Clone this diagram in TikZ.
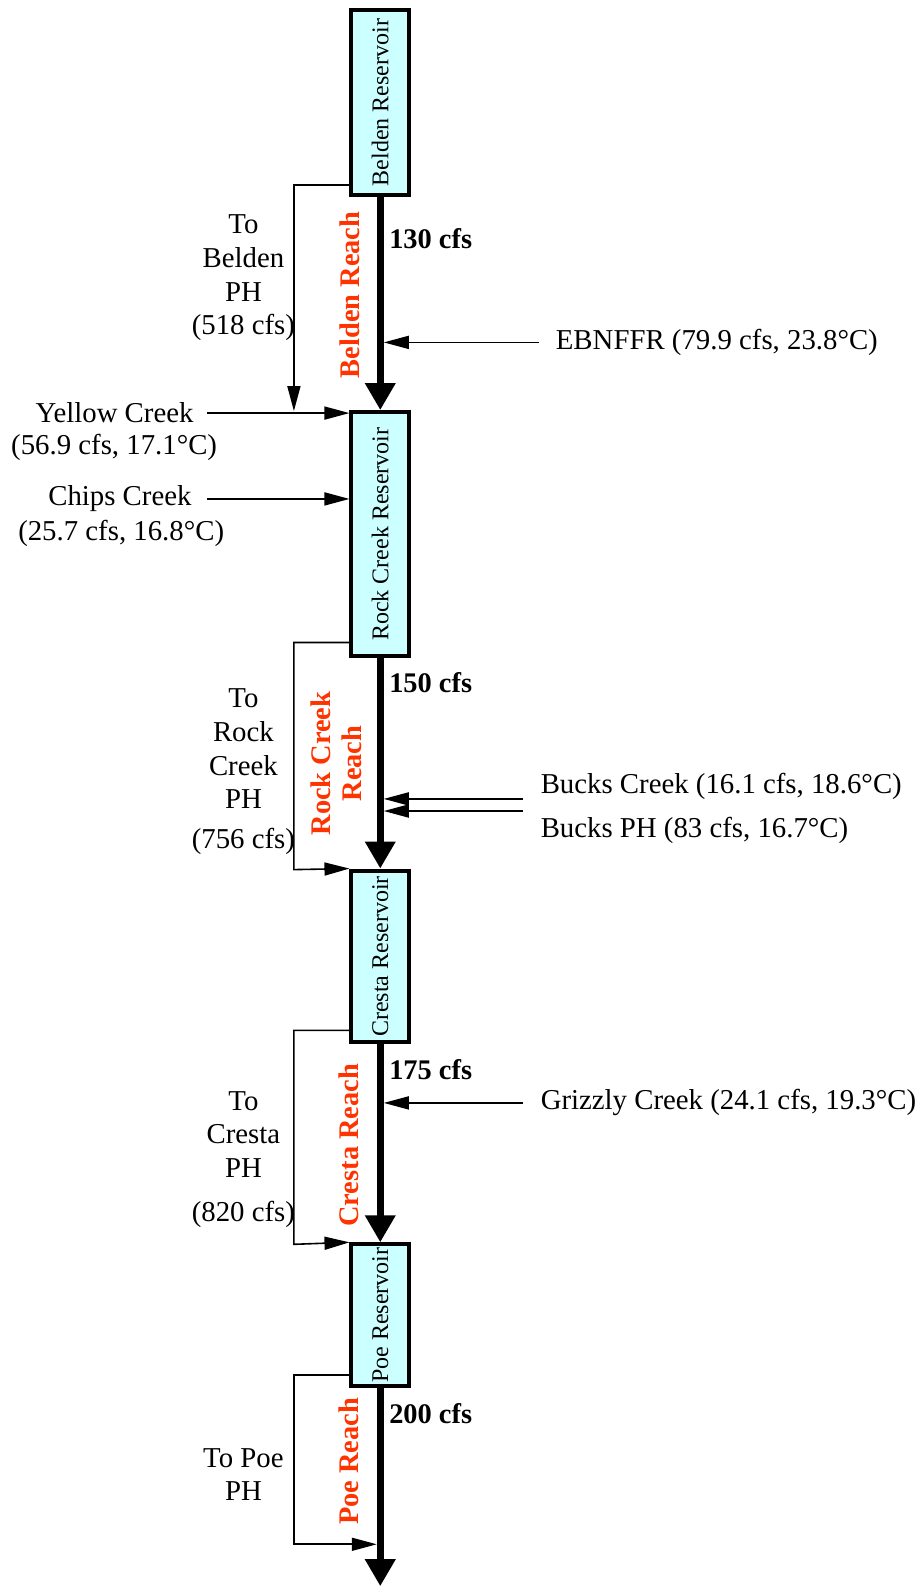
\documentclass[tikz,border=0pt]{standalone}
\usepackage{fontspec}
\setmainfont{Liberation Serif}
\usetikzlibrary{arrows.meta}
\usetikzlibrary{calc}
\usepackage{xcolor}
\definecolor{reachred}{RGB}{255,51,0}
\definecolor{resfill}{RGB}{204,255,255}

\begin{document}
\begin{tikzpicture}[x=0.505pt, y=-0.505pt, font=\fontsize{14.4}{16.9}\selectfont]
        % ================= 样式定义 =================
        \tikzset{
            % 水库:浅青底黑粗边方框
            resbox/.style={draw=black, line width=2pt, fill=resfill, minimum width=28.8pt, inner sep=0pt, font=\fontsize{12}{14}\selectfont},
            % 主河道:粗黑箭头
            mainflow/.style={line width=3.5pt, -{Triangle[length=13.5pt, width=14.5pt]}},
            % 支流/引水:细线箭头
            thinflow/.style={line width=0.8pt, -{Triangle[length=12.5pt, width=6.5pt]}},
            % 河段名称:红色粗体竖排
            reach/.style={text=reachred, font=\fontsize{14.2}{15.2}\selectfont\bfseries, rotate=90, align=center},
            % 流量标注
            cfs/.style={font=\fontsize{14.2}{16}\selectfont\bfseries, anchor=west, inner sep=0pt},
            src/.style={inner sep=0pt},
            divnote/.style={align=center, inner sep=0pt}
        }

        \useasboundingbox (0,0) rectangle (910.9,1571.3);

        % ================= 四个水库 =================
        \node[resbox, minimum height=92.4pt] (belden) at (376.5,101.5) {\rotatebox{90}{Belden Reservoir}};
        \node[resbox, minimum height=122.2pt] (rock) at (376.5,529) {\rotatebox{90}{Rock Creek Reservoir}};
        \node[resbox, minimum height=85.9pt] (cresta) at (376.5,947) {\rotatebox{90}{Cresta Reservoir}};
        \node[resbox, minimum height=70.7pt] (poe) at (376.5,1302) {\rotatebox{90}{Poe Reservoir}};

        % 主河道
        \coordinate (outlet) at (376.5,1570.5);
        \draw[mainflow] (belden) -- (rock);
        \draw[mainflow] (rock) -- (cresta);
        \draw[mainflow] (cresta) -- (poe);
        \draw[mainflow] (poe) -- (outlet);

        % 流量
        \node[cfs] (q1) at (385,236) {130 cfs};
        \node[cfs] (q2) at (385,676) {150 cfs};
        \node[cfs] (q3) at (385,1059) {175 cfs};
        \node[cfs] (q4) at (385,1400) {200 cfs};

        % 河段名称
        \node[reach] (r1) at (346,292) {Belden Reach};
        \node[reach] (r2) at (333,756) {Rock Creek\\Reach};
        \node[reach] (r3) at (345,1134) {Cresta Reach};
        \node[reach] (r4) at (345,1447) {Poe Reach};

        % ================= 引水至电站 =================
        \coordinate (bdiv) at (291,407);
        \coordinate (rdiv) at (291,861);
        \coordinate (cdiv) at (291,1232);
        \coordinate (pdiv) at (291,1529);
        \draw[thinflow] ([yshift=6pt]belden.south west) -| (bdiv);
        \draw[thinflow] ([yshift=8pt]rock.south west) -| (rdiv) -- (cresta.north west);
        \draw[thinflow] ([yshift=7pt]cresta.south west) -| (cdiv) -- (poe.north west);
        \draw[thinflow, shorten >=1.75pt] ([yshift=6.5pt]poe.south west) -| (pdiv) -- (pdiv -| poe.south);

        \node[divnote] (d1) at (241,275) {To\\Belden\\PH\\(518 cfs)};
        \node[divnote] (d2) at (241,764) {To\\Rock\\Creek\\PH\\[3pt](756 cfs)};
        \node[divnote] (d3) at (241,1148) {To\\Cresta\\PH\\[5pt](820 cfs)};
        \node[divnote] (d4) at (241,1460) {To Poe\\PH};

        % ================= 左侧支流 =================
        \node[src, anchor=east] (yellow) at (192,409) {Yellow Creek};
        \node[src] (yellowq) at (113,443) {(56.9 cfs, 17.1°C)};
        \draw[thinflow, shorten <=6.5pt] (yellow.east) -- (yellow.east -| rock.west);

        \node[src, anchor=east] (chips) at (190,494) {Chips Creek};
        \node[src] (chipsq) at (120,528) {(25.7 cfs, 16.8°C)};
        \draw[thinflow, shorten <=7.5pt] (chips.east) -- (chips.east -| rock.west);

        % ================= 右侧支流 =================
        \node[src, anchor=west] (ebn) at (550,339) {EBNFFR (79.9 cfs, 23.8°C)};
        \draw[thinflow, shorten <=8.5pt, shorten >=1.75pt] (ebn.west) -- (ebn.west -| belden.south);

        \coordinate (bcin) at (518,791);
        \coordinate (bpin) at (518,803);
        \node[src, anchor=west] (bucksc) at (535,779) {Bucks Creek (16.1 cfs, 18.6°C)};
        \node[src, anchor=west] (bucksp) at (535,822) {Bucks PH (83 cfs, 16.7°C)};
        \draw[thinflow, shorten >=1.75pt] (bcin) -- (bcin -| rock.south);
        \draw[thinflow, shorten >=1.75pt] (bpin) -- (bpin -| rock.south);

        \node[src, anchor=west] (grizzly) at (535,1092) {Grizzly Creek (24.1 cfs, 19.3°C)};
        \draw[thinflow, shorten <=8.5pt, shorten >=1.75pt] (grizzly.west) -- (grizzly.west -| cresta.south);

    \end{tikzpicture}
\end{document}
